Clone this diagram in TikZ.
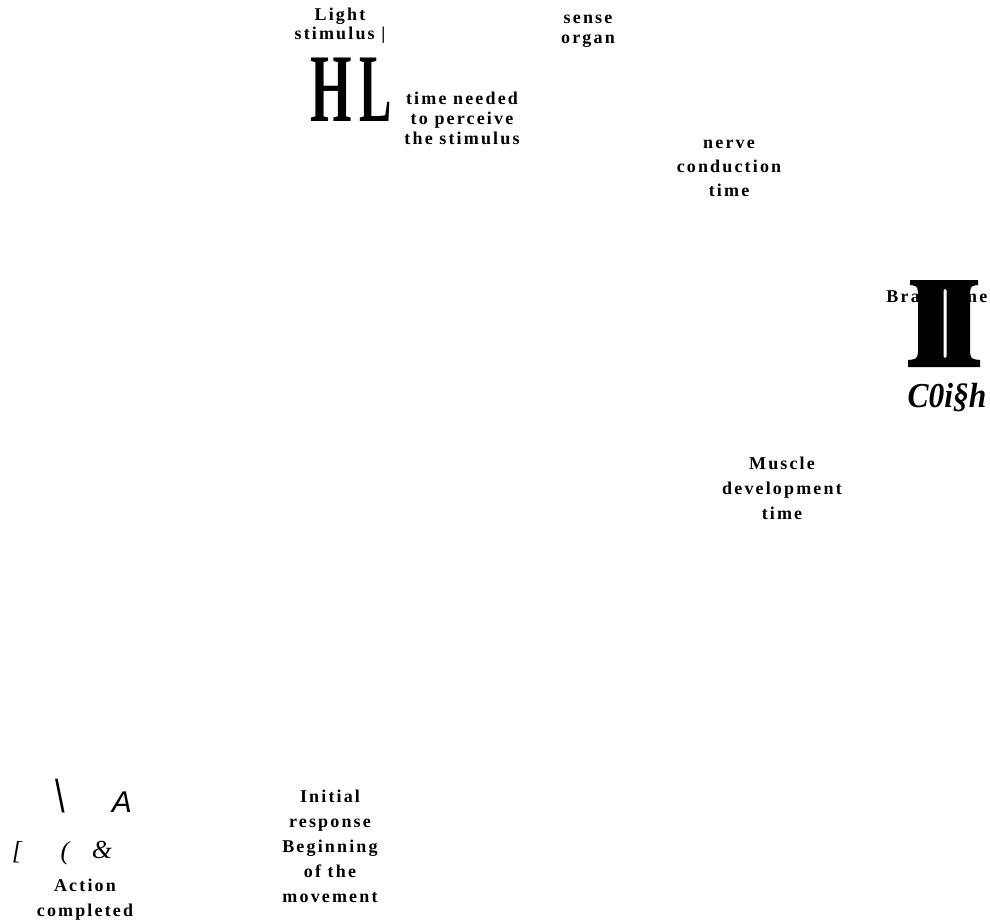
\documentclass[tikz,border=0pt]{standalone}
\usepackage{fontspec}
\setmainfont{Liberation Serif}
\newfontfamily\lblfont{Liberation Serif}[LetterSpace=12]
\newfontfamily\bigserif{Liberation Serif}
\newfontfamily\sansfont{Liberation Sans}
\begin{document}
\begin{tikzpicture}[x=1pt,y=-1pt,
  lbl/.style={font=\lblfont\bfseries\fontsize{18}{#1}\selectfont, align=center, inner sep=0pt},
  lbl/.default=20,
  glyph/.style={inner sep=0pt},
  bigletter/.style={glyph, font=\bigserif\bfseries\fontsize{97}{97}\selectfont}]
\useasboundingbox (0,0) rectangle (990,922);
% top left
\node[lbl=19] (light) at (340,26) {Light\\stimulus |};
\node[bigletter] (h) at (331,90) {\scalebox{0.55}[1]{H}};
\node[bigletter] (l) at (376,90) {\scalebox{0.5}[1]{L}};
\node[lbl=20] (perceive) at (462,118) {time needed\\to perceive\\the stimulus};
\node[lbl=20] (sense) at (588,31) {sense\\organ};
\node[lbl=24] (nerve) at (729,168) {nerve\\conduction\\time};
% brain time
\node[lbl, anchor=base east] (bra) at (920,302) {Bra};
\node[lbl, anchor=base west] (me) at (962,302) {me};
\fill[black] (910,280) -- (978,280) -- (978,285) .. controls (971,286) .. (970,292)
  -- (970,352) .. controls (971,359) .. (980,360) -- (980,367) -- (908,367) -- (908,360)
  .. controls (917,359) .. (918,352) -- (918,292) .. controls (917,286) .. (910,285) -- cycle;
\fill[white, rounded corners=1.5] (943.5,289) rectangle (946.5,358);
\node[glyph, anchor=base, font=\bigserif\bfseries\itshape\fontsize{35}{35}\selectfont] (coish) at (947,407) {\scalebox{0.9}[1]{C0i§h}};
% muscle
\node[lbl=25] (muscle) at (782,488) {Muscle\\development\\time};
% bottom
\node[lbl=25] (initial) at (330,846) {Initial\\response\\Beginning\\of the\\movement};
\node[lbl=25] (action) at (85,900) {Action\\completed};
\node[glyph, anchor=base, font=\sansfont\fontsize{46}{46}\selectfont] (bs) at (60,812) {\scalebox{0.75}[1]{\textbackslash}};
\node[glyph, anchor=base, font=\sansfont\itshape\fontsize{30}{30}\selectfont] (a) at (122,812) {A};
\node[glyph, anchor=base, font=\bigserif\itshape\fontsize{26}{26}\selectfont] (br) at (17,859) {[};
\node[glyph, anchor=base, font=\bigserif\itshape\fontsize{26}{26}\selectfont] (pa) at (65,859) {(};
\node[glyph, anchor=base, font=\bigserif\itshape\fontsize{26}{26}\selectfont] (amp) at (102,858) {\&};
\end{tikzpicture}
\end{document}
